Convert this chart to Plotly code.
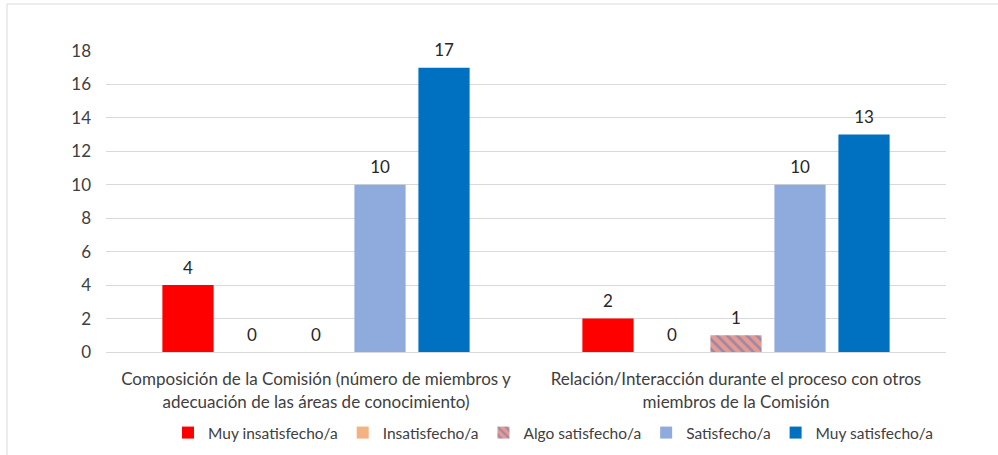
import plotly.graph_objects as go

categories = [
    "Composición de la Comisión (número de miembros y<br>adecuación de las áreas de conocimiento)",
    "Relación/Interacción durante el proceso con otros<br>miembros de la Comisión",
]
series_names = ["Muy insatisfecho/a", "Insatisfecho/a", "Algo satisfecho/a", "Satisfecho/a", "Muy satisfecho/a"]
values = {
    "Muy insatisfecho/a": [4, 2],
    "Insatisfecho/a": [0, 0],
    "Algo satisfecho/a": [0, 1],
    "Satisfecho/a": [10, 10],
    "Muy satisfecho/a": [17, 13],
}
colors = {
    "Muy insatisfecho/a": "#FF0000",
    "Insatisfecho/a": "#F4B183",
    "Algo satisfecho/a": "#E99A8F",
    "Satisfecho/a": "#8FAADC",
    "Muy satisfecho/a": "#0070C0",
}
y_ticks = [0, 2, 4, 6, 8, 10, 12, 14, 16, 18]

FONT = "Lato"
fig = go.Figure()
for name in series_names:
    marker = dict(color=colors[name], line=dict(width=0))
    if name == "Algo satisfecho/a":
        marker["pattern"] = dict(shape="\\", fgcolor="#4A78C8", size=7, solidity=0.4, fillmode="overlay")
    fig.add_trace(go.Bar(
        name=name, x=categories, y=values[name],
        marker=marker, offsetgroup=name, alignmentgroup="g",
    ))
# data labels, grouped like the bars
for name in series_names:
    fig.add_trace(go.Scatter(
        x=categories, y=values[name], mode="markers+text",
        offsetgroup=name, alignmentgroup="g",
        marker=dict(size=10, opacity=0), showlegend=False, hoverinfo="skip",
        text=[str(v) for v in values[name]], textposition="top center",
        textfont=dict(family=FONT, size=17, color="#262626"),
        cliponaxis=False,
    ))

W, H = 998, 455
L, R, T, B = 106, 52, 51, 103
pw = W - L - R
ph = H - T - B
fig.update_layout(
    width=W, height=H,
    margin=dict(l=L, r=R, t=T, b=B, autoexpand=False),
    paper_bgcolor="white", plot_bgcolor="white",
    barmode="group", bargap=0.238, bargroupgap=0.2,
    scattermode="group", scattergap=0.238,
    font=dict(family=FONT, size=17, color="#404040"),
    showlegend=True,
    legend=dict(orientation="h", x=(553 - L) / pw, xanchor="center",
                yref="container", y=1 - 433 / H, yanchor="middle",
                font=dict(family=FONT, size=15.5, color="#404040"),
                itemwidth=30, tracegroupgap=0, traceorder="normal"),
    xaxis=dict(showgrid=False, showline=True, linecolor="#D9D9D9", linewidth=1,
               ticks="", automargin=False, ticklabelstandoff=12,
               tickfont=dict(family=FONT, size=17, color="#404040")),
    yaxis=dict(range=[0, 18], tickvals=y_ticks, showgrid=True, gridcolor="#D9D9D9",
               zeroline=False, showline=False, ticks="", automargin=False,
               tickfont=dict(family=FONT, size=17, color="#404040"), ticklabelstandoff=14),
    shapes=[dict(type="rect", xref="paper", yref="paper",
                 x0=(7 - L) / pw, x1=(W + 5 - L) / pw,
                 y0=(H - B - (H + 5)) / ph, y1=(H - B - 4) / ph,
                 line=dict(color="#D9D9D9", width=1), fillcolor="rgba(0,0,0,0)", layer="below")],
)
fig.write_html("out.html", config={"displayModeBar": False},
               post_script="document.body.style.margin='0';document.body.style.overflow='hidden';")
